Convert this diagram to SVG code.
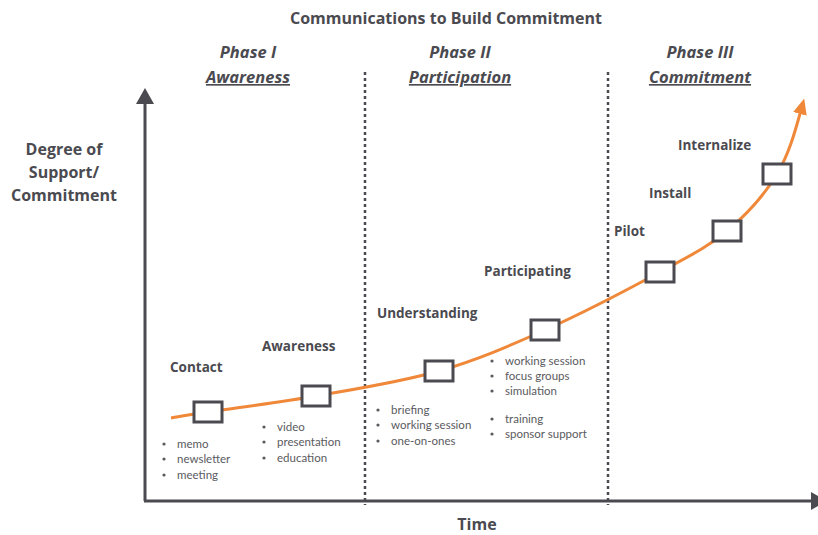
<svg xmlns="http://www.w3.org/2000/svg" width="818" height="535" viewBox="0 0 818 535">
<defs>
<style>
.t{font-family:"Open Sans","Noto Sans","Liberation Sans",sans-serif;fill:#4a4a50}
.title{font-size:16px;font-weight:bold}
.phase{font-size:16.5px;font-weight:bold;font-style:italic}
.ul{text-decoration:underline}
.ax{font-size:16px;font-weight:bold}
.lbl{font-size:13.5px;font-weight:bold}
.li{font-family:Lato,"Liberation Sans",sans-serif;font-size:11.5px;fill:#5a5a60}
.axis{stroke:#4a4a50;stroke-width:3;fill:none}
.dash{stroke:#4a4a50;stroke-width:2.5;stroke-dasharray:3 3;fill:none}
.curve{stroke:#f0883a;stroke-width:3;fill:none}
.box{fill:#fff;stroke:#4a4a50;stroke-width:3}
.dot{fill:#5a5a60}
</style>
<marker id="oa" markerWidth="16" markerHeight="14" refX="4" refY="7" orient="auto" markerUnits="userSpaceOnUse">
<path d="M0,0 L16,7 L0,14 z" fill="#f0883a"/>
</marker>
</defs>
<rect width="818" height="535" fill="#fff"/>
<text class="t title" x="446" y="24" text-anchor="middle">Communications to Build Commitment</text>
<g id="phase1">
<text class="t phase" x="248" y="58" text-anchor="middle">Phase I</text>
<text class="t phase ul" x="248" y="83" text-anchor="middle">Awareness</text>
</g>
<g id="phase2">
<text class="t phase" x="460" y="58" text-anchor="middle">Phase II</text>
<text class="t phase ul" x="460" y="83" text-anchor="middle">Participation</text>
</g>
<g id="phase3">
<text class="t phase" x="700" y="58" text-anchor="middle">Phase III</text>
<text class="t phase ul" x="700" y="83" text-anchor="middle">Commitment</text>
</g>
<g id="ylabel">
<text class="t ax" x="64" y="155" text-anchor="middle">Degree of</text>
<text class="t ax" x="64" y="178" text-anchor="middle">Support/</text>
<text class="t ax" x="64" y="201" text-anchor="middle">Commitment</text>
</g>
<text id="xlabel" class="t ax" x="477" y="530" text-anchor="middle">Time</text>
<g id="axes">
<line class="axis" x1="145" y1="501" x2="145" y2="102"/>
<polygon points="136,104 145,88 154,104" fill="#4a4a50"/>
<line class="axis" x1="144" y1="501" x2="814" y2="501"/>
<polygon points="811,492 827,501 811,510" fill="#4a4a50"/>
</g>
<g id="dividers">
<line class="dash" x1="365" y1="72" x2="365" y2="505"/>
<line class="dash" x1="608" y1="72" x2="608" y2="505"/>
</g>
<g id="connectors">
<path class="curve" marker-end="url(#oa)" d="M171,418 C177.2,417 183.8,415.7 208,412 C232.2,408.3 277.5,402.8 316,396 C354.5,389.2 400.8,382 439,371 C477.2,360 508.2,346.5 545,330 C581.8,313.5 629.7,288.5 660,272 C690.3,255.5 707.5,247.3 727,231 C746.5,214.7 764.3,195.2 777,174 C789.7,152.8 796,128 801,110"/>
</g>
<g id="contact">
<rect class="box" x="194" y="402" width="28" height="20"/>
<text class="t lbl" x="170" y="372">Contact</text>
<circle class="dot" cx="164" cy="444" r="1.6"/><text class="t li" x="177" y="448">memo</text>
<circle class="dot" cx="164" cy="459" r="1.6"/><text class="t li" x="177" y="463">newsletter</text>
<circle class="dot" cx="164" cy="475" r="1.6"/><text class="t li" x="177" y="479">meeting</text>
</g>
<g id="awareness">
<rect class="box" x="302" y="386" width="28" height="20"/>
<text class="t lbl" x="262" y="351">Awareness</text>
<circle class="dot" cx="264" cy="427" r="1.6"/><text class="t li" x="277" y="431">video</text>
<circle class="dot" cx="264" cy="442" r="1.6"/><text class="t li" x="277" y="446">presentation</text>
<circle class="dot" cx="264" cy="458" r="1.6"/><text class="t li" x="277" y="462">education</text>
</g>
<g id="understanding">
<rect class="box" x="425" y="361" width="28" height="20"/>
<text class="t lbl" x="377" y="318">Understanding</text>
<circle class="dot" cx="378" cy="410" r="1.6"/><text class="t li" x="391" y="414">briefing</text>
<circle class="dot" cx="378" cy="425" r="1.6"/><text class="t li" x="391" y="429">working session</text>
<circle class="dot" cx="378" cy="441" r="1.6"/><text class="t li" x="391" y="445">one-on-ones</text>
</g>
<g id="participating">
<rect class="box" x="531" y="320" width="28" height="20"/>
<text class="t lbl" x="484" y="276">Participating</text>
<circle class="dot" cx="492" cy="361" r="1.6"/><text class="t li" x="505" y="365">working session</text>
<circle class="dot" cx="492" cy="376" r="1.6"/><text class="t li" x="505" y="380">focus groups</text>
<circle class="dot" cx="492" cy="391" r="1.6"/><text class="t li" x="505" y="395">simulation</text>
<circle class="dot" cx="492" cy="419" r="1.6"/><text class="t li" x="505" y="423">training</text>
<circle class="dot" cx="492" cy="434" r="1.6"/><text class="t li" x="505" y="438">sponsor support</text>
</g>
<g id="pilot">
<rect class="box" x="646" y="262" width="28" height="20"/>
<text class="t lbl" x="614" y="236">Pilot</text>
</g>
<g id="install">
<rect class="box" x="713" y="221" width="28" height="20"/>
<text class="t lbl" x="649" y="198">Install</text>
</g>
<g id="internalize">
<rect class="box" x="763" y="164" width="28" height="20"/>
<text class="t lbl" x="678" y="150">Internalize</text>
</g>
</svg>
